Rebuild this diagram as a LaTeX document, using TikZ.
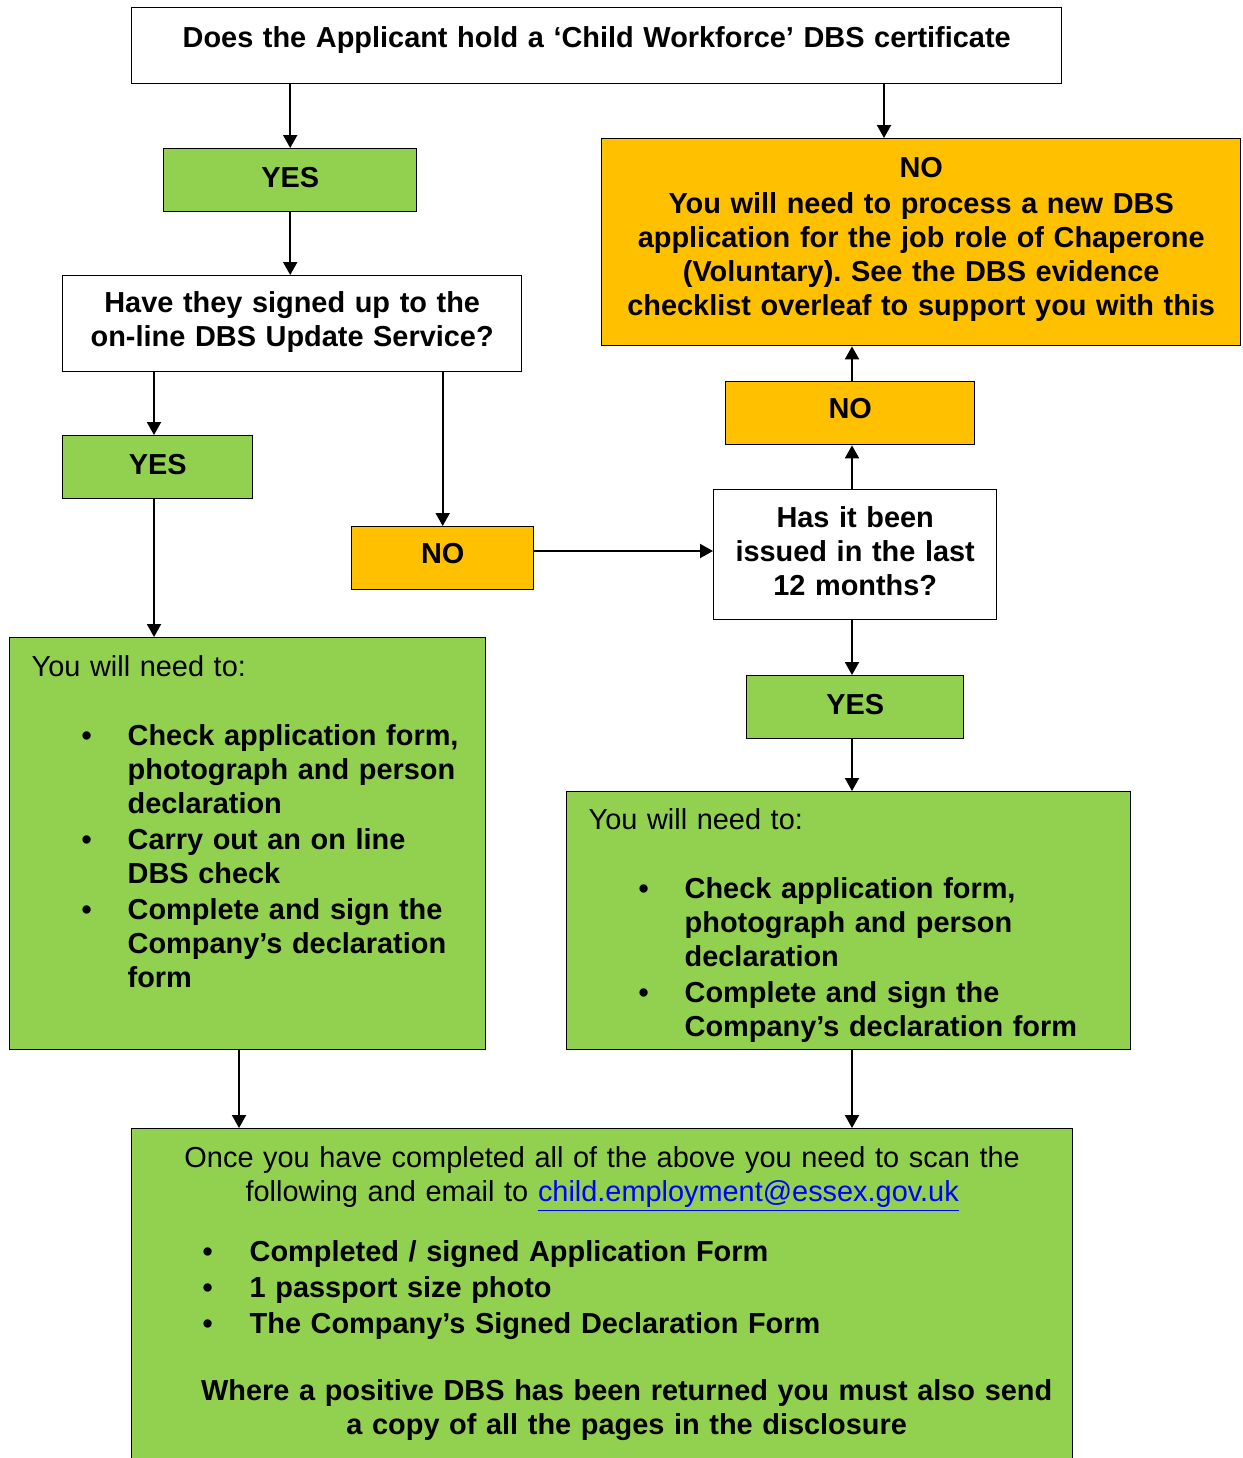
\documentclass[tikz,border=0pt]{standalone}
\usepackage{fontspec}
\setmainfont{Liberation Sans}
\usetikzlibrary{arrows.meta}
\definecolor{ygreen}{HTML}{92D050}
\definecolor{amber}{HTML}{FFC000}
\setlength{\parindent}{0pt}
\frenchspacing
% bullet line: #1 hanging indent, #2 bullet offset, #3 text
\newcommand{\bitem}[3]{\par\noindent\hangindent=#1\hangafter=1\hbox to #1{\hspace{#2}\textbullet\hfill}#3\par}
\begin{document}
\begin{tikzpicture}[x=0.5pt,y=-0.5pt,
		box/.style={draw,line width=0.7pt,anchor=north west,inner sep=0pt,align=center,font=\fontsize{14.45}{17}\selectfont\bfseries},
		list/.style={box,align=left,inner xsep=11pt,font=\fontsize{14.45}{17}\selectfont},
		arr/.style={line width=1pt,-{Triangle[width=7pt,length=6.5pt]}}]
		\useasboundingbox (0,0) rectangle (1243,1458);
		\clip (0,0) rectangle (1243,1458);
		\node [box,fill=white,text width=465pt,text height=20pt,text depth=18pt] (q1) at (131,7)
			{Does the Applicant hold a ‘Child Workforce’ DBS certificate};
		\node [box,fill=ygreen,text width=126.5pt,text height=19.5pt,text depth=12pt] (yes1) at (163,148) {YES};
		\node [box,text width=229.5pt,text height=18.5pt,text depth=29.5pt] (q2) at (62,275)
			{Have they signed up to the\\on-line DBS Update Service?};
		\node [box,fill=ygreen,text width=95pt,text height=19.5pt,text depth=12pt] (yes2) at (62,435) {YES};
		\node [box,fill=amber,text width=91pt,text height=18.5pt,text depth=13pt] (no2) at (351,526) {NO};
		\node [box,text width=141.5pt,text height=19pt,text depth=46pt] (q3) at (713,489)
			{Has it been\\issued in the last\\12 months?};
		\node [box,fill=amber,text width=124.5pt,text height=18.5pt,text depth=13pt] (no3) at (725,381) {NO};
		\node [box,fill=amber,text width=319.5pt,text height=19.5pt,text depth=84pt] (noA) at (601,138)
			{NO\\[1pt]You will need to process a new DBS\\application for the job role of Chaperone\\(Voluntary). See the DBS evidence\\checklist overleaf to support you with this};
		\node [box,fill=ygreen,text width=108.5pt,text height=19.5pt,text depth=12pt] (yes3) at (746,675) {YES};
		\node [list,fill=ygreen,text width=216pt,text height=19.5pt,text depth=186.5pt] (chkL) at (9,637)
			{\parskip=1pt You will need to:\par\vspace{16.5pt}\bfseries
			\bitem{48pt}{25pt}{Check application form,\newline photograph and person\newline declaration}
			\bitem{48pt}{25pt}{Carry out an on line\newline DBS check}
			\bitem{48pt}{25pt}{Complete and sign the\newline Company’s declaration\newline form}};
		\node [list,fill=ygreen,text width=260pt,text height=19pt,text depth=110pt] (chkR) at (566,791)
			{\parskip=1pt You will need to:\par\vspace{16.5pt}\bfseries
			\bitem{48pt}{25pt}{Check application form,\newline photograph and person\newline declaration}
			\bitem{48pt}{25pt}{Complete and sign the\newline Company’s declaration form}};
		\node [list,inner xsep=0pt,fill=ygreen,text width=470.5pt,text height=19.5pt,text depth=200pt] (mail) at (131,1128)
			{\parskip=1pt {\centering Once you have completed all of the above you need to scan the\\following and email to \textcolor{blue}{\underline{child.employment@essex.gov.uk}}\par}
			\vspace{12pt}\bfseries
			\bitem{59pt}{35.5pt}{Completed / signed Application Form}
			\bitem{59pt}{35.5pt}{1 passport size photo}
			\bitem{59pt}{35.5pt}{The Company’s Signed Declaration Form}
			\vspace{15.5pt}
			{\centering\leftskip=24.5pt plus 1fil Where a positive DBS has been returned you must also send\\a copy of all the pages in the disclosure\par}};
		\coordinate (rt) at (884,0);
		\coordinate (rc) at (852,0);
		\coordinate (lc) at (154,0);
		\coordinate (lf) at (239,0);
		\coordinate (mid) at (0,551);
		\draw [arr] (yes1 |- q1.south) -- (yes1.north);
		\draw [arr] (q1.south -| rt) -- (rt |- noA.north);
		\draw [arr] (yes1.south) -- (yes1.south |- q2.north);
		\draw [arr] (q2.south -| lc) -- (lc |- yes2.north);
		\draw [arr] (no2 |- q2.south) -- (no2.north);
		\draw [arr] (no2.east |- mid) -- (q3.west |- mid);
		\draw [arr] (q3.north -| rc) -- (rc |- no3.south);
		\draw [arr] (no3.north -| rc) -- (rc |- noA.south);
		\draw [arr] (q3.south -| rc) -- (rc |- yes3.north);
		\draw [arr] (yes3.south -| rc) -- (rc |- chkR.north);
		\draw [arr] (yes2.south -| lc) -- (lc |- chkL.north);
		\draw [arr] (chkL.south -| lf) -- (lf |- mail.north);
		\draw [arr] (chkR.south -| rc) -- (rc |- mail.north);
\end{tikzpicture}
\end{document}
